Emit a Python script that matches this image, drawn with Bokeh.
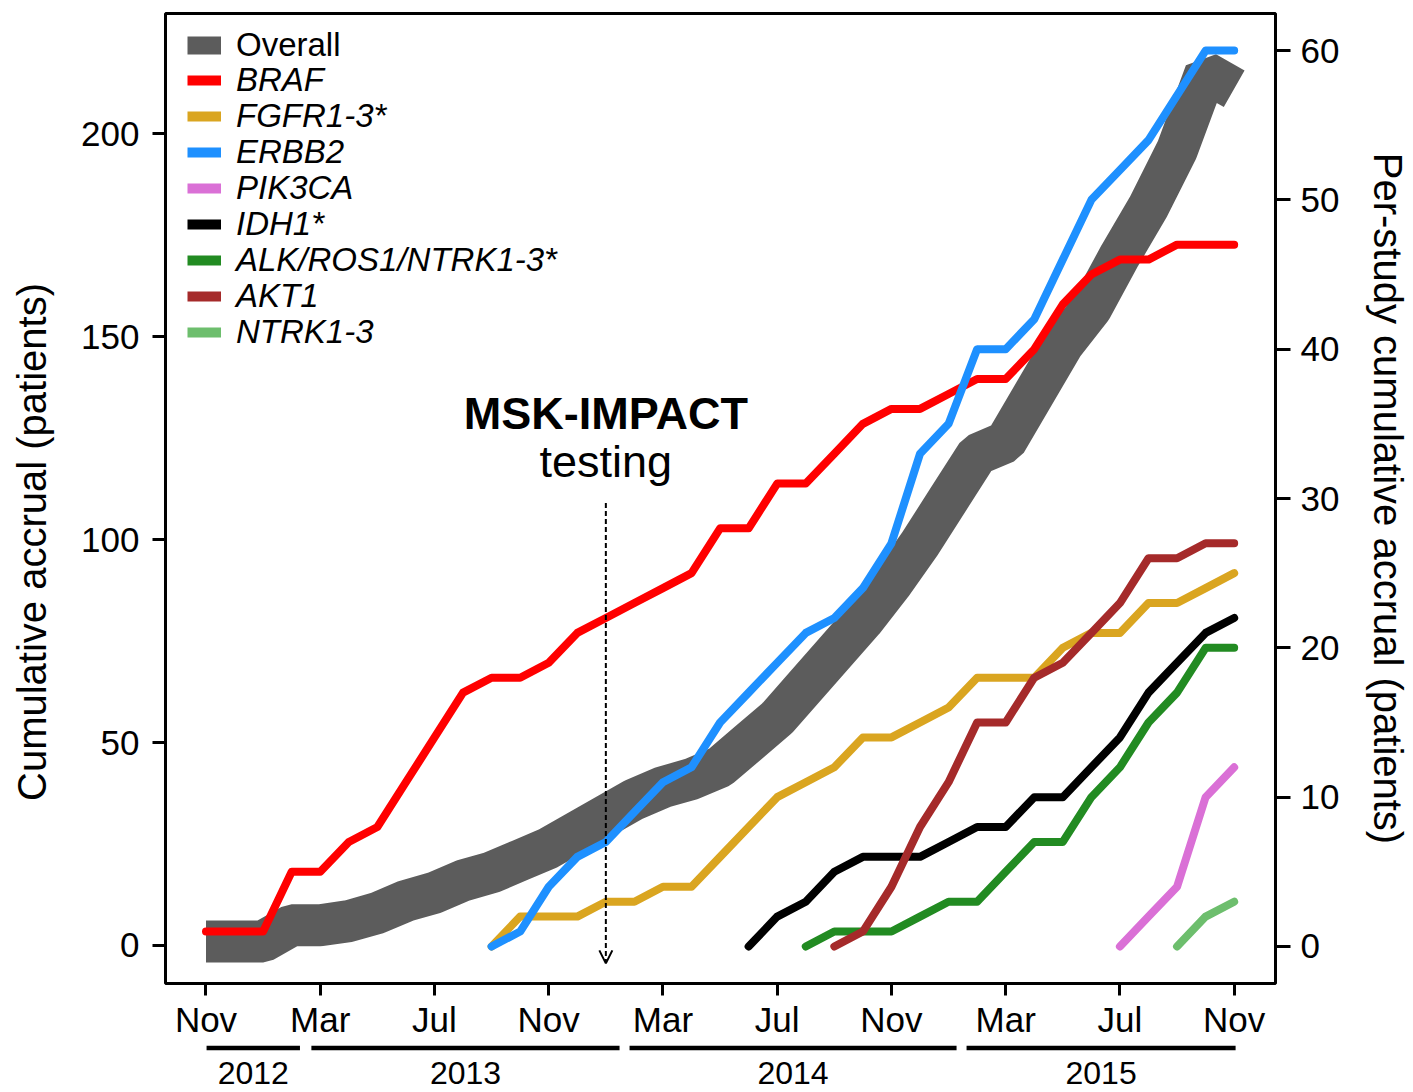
import math
from bokeh.plotting import figure
from bokeh.layouts import column, row
from bokeh.models import (Range1d, LinearAxis, FixedTicker, Legend, LegendItem,
                          Arrow, OpenHead, Label)
from bokeh.core.properties import value
from bokeh.embed import file_html
from bokeh.resources import INLINE

FONT = "Liberation Sans"
NAN = float("nan")

# ---------------- data ----------------
months = ["2012-11", "2012-12",
          "2013-01", "2013-02", "2013-03", "2013-04", "2013-05", "2013-06",
          "2013-07", "2013-08", "2013-09", "2013-10", "2013-11", "2013-12",
          "2014-01", "2014-02", "2014-03", "2014-04", "2014-05", "2014-06",
          "2014-07", "2014-08", "2014-09", "2014-10", "2014-11", "2014-12",
          "2015-01", "2015-02", "2015-03", "2015-04", "2015-05", "2015-06",
          "2015-07", "2015-08", "2015-09", "2015-10", "2015-11"]

tick_months = ["2012-11", "2013-03", "2013-07", "2013-11", "2014-03",
               "2014-07", "2014-11", "2015-03", "2015-07", "2015-11"]
tick_labels = ["Nov", "Mar", "Jul", "Nov", "Mar", "Jul", "Nov", "Mar", "Jul", "Nov"]

# overall cumulative accrual (left axis)
overall_start = "2012-11"
overall = [1, 1, 1, 5, 5, 6, 8, 11, 13, 16, 18, 21, 24, 28, 32, 36, 39, 41, 44, 50,
           56, 64, 72, 80, 89, 99, 110, 121, 124, 136, 148, 157, 170, 182, 196, 215, 211]

# per-study cumulative accrual (right axis)
braf_start = "2012-11"
braf = [1, 1, 1, 5, 5, 7, 8, 11, 14, 17, 18, 18, 19, 21, 22, 23, 24, 25, 28, 28,
        31, 31, 33, 35, 36, 36, 37, 38, 38, 40, 43, 45, 46, 46, 47, 47, 47]
fgfr_start = "2013-09"
fgfr = [0, 2, 2, 2, 3, 3, 4, 4, 6, 8, 10, 11, 12, 14, 14, 15, 16, 18, 18, 18,
        20, 21, 21, 23, 23, 24, 25]
erbb2_start = "2013-09"
erbb2 = [0, 1, 4, 6, 7, 9, 11, 12, 15, 17, 19, 21, 22, 24, 27, 33, 35, 40, 40, 42,
         46, 50, 52, 54, 57, 60, 60]
pik3ca_start = "2015-07"
pik3ca = [0, 2, 4, 10, 12]
idh1_start = "2014-06"
idh1 = [0, 2, 3, 5, 6, 6, 6, 7, 8, 8, 10, 10, 12, 14, 17, 19, 21, 22]
alk_start = "2014-08"
alk = [0, 1, 1, 1, 2, 3, 3, 5, 7, 7, 10, 12, 15, 17, 20, 20]
akt1_start = "2014-09"
akt1 = [0, 1, 4, 8, 11, 15, 15, 18, 19, 21, 23, 26, 26, 27, 27]
ntrk_start = "2015-09"
ntrk = [0, 2, 3]

series_names = ["BRAF", "FGFR1-3*", "ERBB2", "PIK3CA", "IDH1*",
                "ALK/ROS1/NTRK1-3*", "AKT1", "NTRK1-3"]
series_colors = ["#FF0000", "#DAA520", "#1E90FF", "#DA70D6", "#000000",
                 "#228B22", "#A52A2A", "#6DBE6D"]
series_starts = [braf_start, fgfr_start, erbb2_start, pik3ca_start, idh1_start,
                 alk_start, akt1_start, ntrk_start]
series_values = [braf, fgfr, erbb2, pik3ca, idh1, alk, akt1, ntrk]
overall_color = "#5C5C5C"

left_ticks = [0, 50, 100, 150, 200]
right_ticks = [0, 10, 20, 30, 40, 50, 60]
left_title = "Cumulative accrual (patients)"
right_title = "Per-study cumulative accrual (patients)"

msk_month = "2014-01"

year_labels = ["2012", "2013", "2014", "2015"]
year_bar_start = [0.02, 3.69, 14.83, 26.63]   # in month index units
year_bar_end = [3.29, 14.48, 26.28, 36.05]


def xs_from(start, vals):
    i0 = months.index(start)
    return [months.index(months[i0 + k]) for k in range(len(vals))]


# ---------------- main figure ----------------
x_range = Range1d(-1.418, 37.447)
p = figure(frame_width=1110, frame_height=970,
           x_range=x_range, y_range=Range1d(-9.36, 229.56),
           output_backend="svg", toolbar_location=None, title=None,
           min_border_left=105, min_border_top=13, min_border_right=138,
           min_border_bottom=60,
           background_fill_color="white", border_fill_color="white",
           outline_line_color="black", outline_line_width=3)
p.grid.visible = False
p.extra_y_ranges = {"right": Range1d(-2.48, 62.48)}

# overall band
p.line(xs_from(overall_start, overall), overall, line_width=42,
       line_color=overall_color, line_join="bevel", line_cap="butt")

# per-study lines
for vals, start, col in zip(series_values, series_starts, series_colors):
    p.line(xs_from(start, vals), vals, y_range_name="right", line_width=8,
           line_color=col, line_join="round", line_cap="round")

# axes styling
def style_axis(ax, tick_out, standoff):
    ax.axis_line_color = None
    ax.major_tick_line_width = 3
    ax.major_tick_line_color = "black"
    ax.major_tick_out = tick_out
    ax.major_tick_in = 0
    ax.minor_tick_line_color = None
    ax.major_label_text_font = FONT
    ax.major_label_text_font_size = "35px"
    ax.major_label_text_color = "black"
    ax.major_label_standoff = standoff
    ax.axis_label_text_font = FONT
    ax.axis_label_text_font_size = "40px"
    ax.axis_label_text_font_style = "normal"
    ax.axis_label_text_color = "black"

ly = p.yaxis[0]
ly.ticker = FixedTicker(ticks=left_ticks)
style_axis(ly, 13, 13)

bx = p.xaxis[0]
bx.ticker = FixedTicker(ticks=[months.index(m) for m in tick_months])
bx.major_label_overrides = {months.index(m): lab for m, lab in zip(tick_months, tick_labels)}
style_axis(bx, 12, 4)

ry = LinearAxis(y_range_name="right", ticker=FixedTicker(ticks=right_ticks))
style_axis(ry, 15, 10)
ry.axis_label = right_title
ry.axis_label_standoff = 24
p.add_layout(ry, "right")

# MSK-IMPACT annotation
mx = months.index(msk_month)
p.add_layout(Arrow(end=OpenHead(size=13, line_width=2, line_color="black"),
                   x_start=mx, y_start=109, x_end=mx, y_end=-4.4,
                   line_width=2, line_dash="5 3", line_color="black"))
p.add_layout(Label(x=mx, y=131.0, text="MSK-IMPACT", text_align="center",
                   text_baseline="alphabetic", text_font=FONT,
                   text_font_size="45px", text_font_style="bold", text_color="black"))
p.add_layout(Label(x=mx, y=119.3, text="testing", text_align="center",
                   text_baseline="alphabetic", text_font=FONT,
                   text_font_size="45px", text_color="black"))

# legend (swatch-only renderers that draw nothing in the plot)
dummy_overall = p.line(x=[NAN], y=[NAN], line_width=18, line_color=overall_color,
                       line_cap="butt")
dummies = [p.line(x=[NAN], y=[NAN], line_width=10, line_color=c, line_cap="butt",
                  y_range_name="right") for c in series_colors]

legend_labels = ["Overall"] + series_names
legend_renderers = [dummy_overall] + dummies
for i, (lab, rend) in enumerate(zip(legend_labels, legend_renderers)):
    lg = Legend(items=[LegendItem(label=lab, renderers=[rend])],
                location=(22, 919.5 - 35.9 * i))
    lg.glyph_width = 34
    lg.glyph_height = 36
    lg.label_height = 36
    lg.label_standoff = 15
    lg.spacing = 0
    lg.padding = 0
    lg.margin = 0
    lg.border_line_color = None
    lg.background_fill_alpha = 0
    lg.label_text_font = FONT
    lg.label_text_font_size = "33px"
    lg.label_text_color = "black"
    lg.label_text_font_style = "normal" if i == 0 else "italic"
    p.add_layout(lg)

# ---------------- year strip below the month axis ----------------
p2 = figure(frame_width=1110, frame_height=48, x_range=x_range,
            y_range=Range1d(0, 48), output_backend="svg", toolbar_location=None,
            title=None, x_axis_location=None, y_axis_location=None,
            min_border_left=105, min_border_right=138, min_border_top=0,
            min_border_bottom=0, outline_line_color=None,
            background_fill_color="white", border_fill_color="white")
p2.grid.visible = False
p2.segment(x0=year_bar_start, y0=43.5, x1=year_bar_end, y1=43.5,
           line_width=4.5, line_color="black", line_cap="butt")
p2.text(x=[(s + e) / 2 for s, e in zip(year_bar_start, year_bar_end)], y=18.5,
        text=year_labels, text_align="center", text_baseline="middle",
        text_font=value(FONT), text_font_size="32px", text_color="black")

# ---------------- left title strip ----------------
pl = figure(frame_width=60, frame_height=1091, x_range=Range1d(0, 60),
            y_range=Range1d(0, 1091), output_backend="svg", toolbar_location=None,
            title=None, x_axis_location=None, y_axis_location=None,
            min_border=0, outline_line_color=None,
            background_fill_color="white", border_fill_color="white")
pl.grid.visible = False
pl.text(x=[31], y=[549.5], text=[left_title], angle=math.pi / 2,
        text_align="center", text_baseline="middle",
        text_font=value(FONT), text_font_size="40px", text_color="black")

layout = row(pl, column(p, p2, spacing=0), spacing=0)
open("out.html", "w").write(file_html(layout, INLINE))
